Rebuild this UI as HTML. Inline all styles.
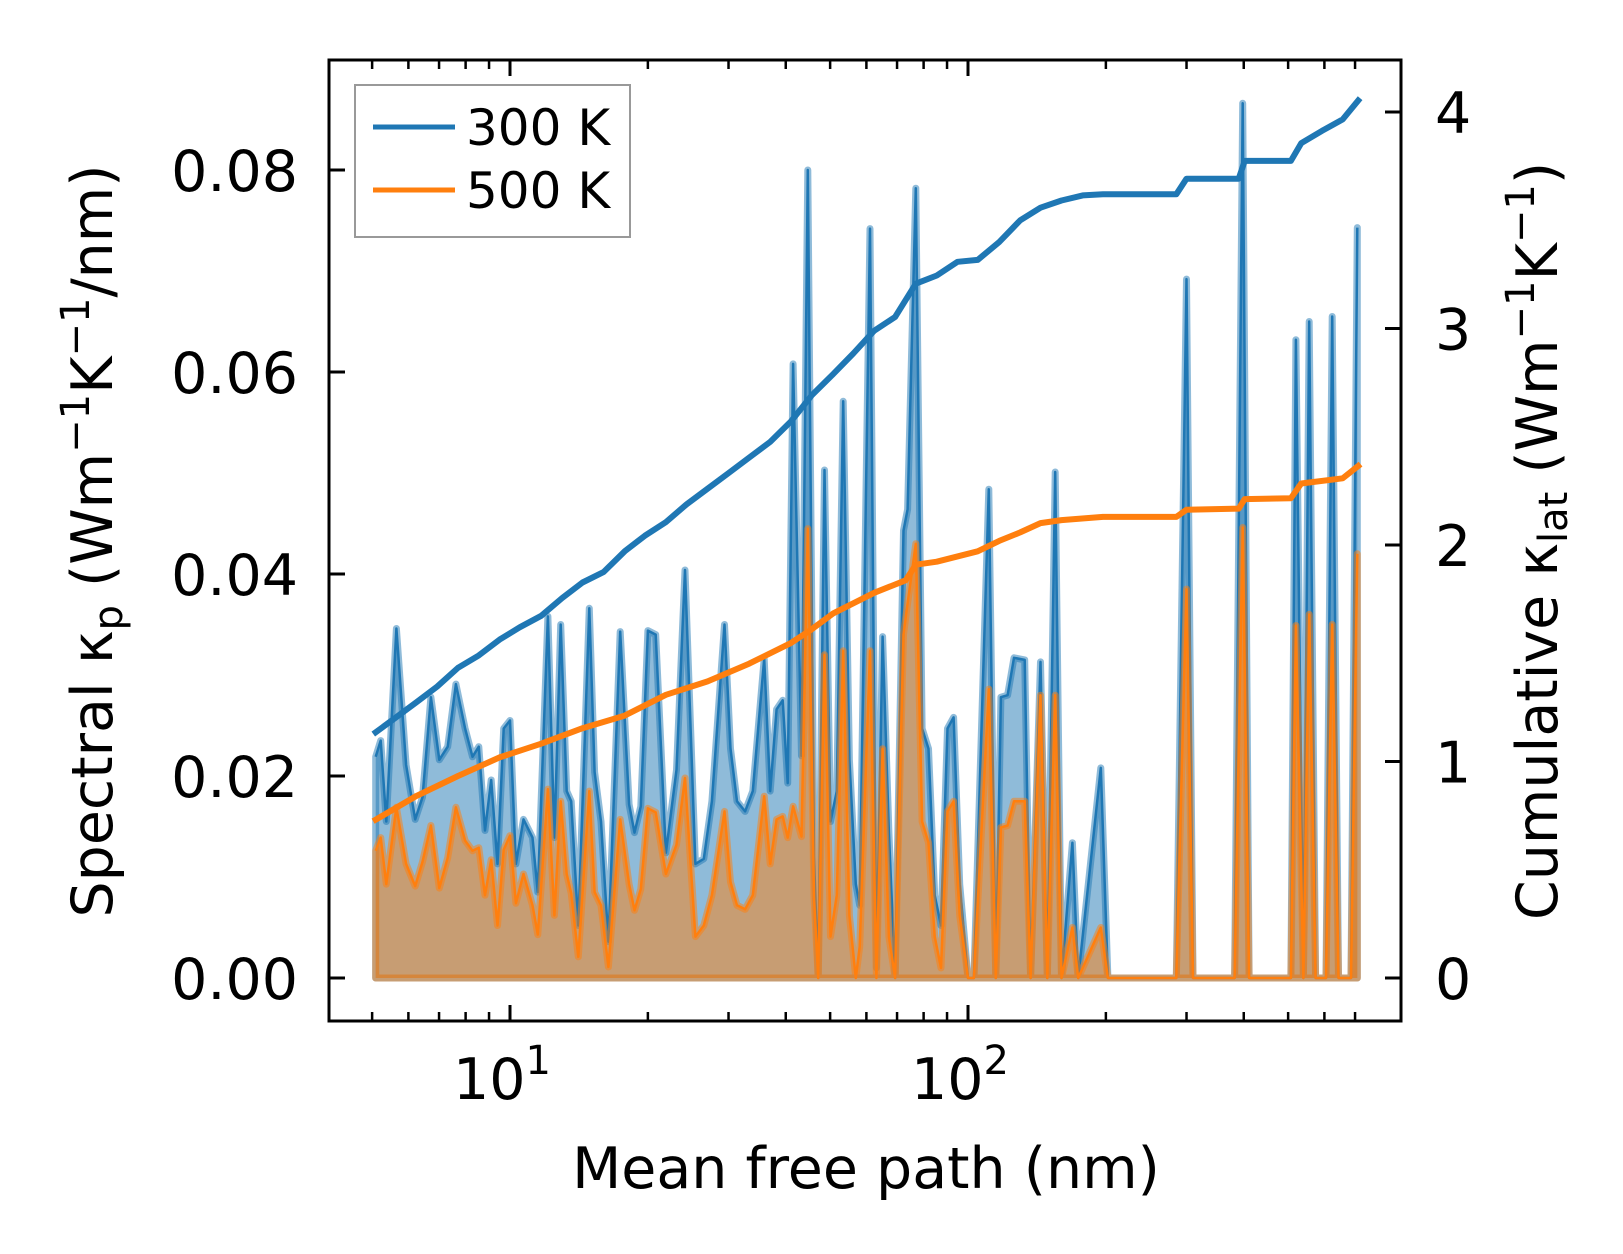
<!DOCTYPE html>
<html><head><meta charset="utf-8"><style>
html,body{margin:0;padding:0;background:#fff;}
svg{display:block;font-family:"DejaVu Sans","Liberation Sans",sans-serif;}
</style></head><body>
<svg id="chart" width="1623" height="1254" viewBox="0 0 1623 1254" xmlns="http://www.w3.org/2000/svg">
<rect x="0" y="0" width="1623" height="1254" fill="#fff"/>
<g id="plot"></g>
<g id="axes"></g>
</svg>
<script>
// spectral data
const mfp = [5.09,5.22,5.37,5.65,5.93,6.21,6.44,6.72,7.01,7.31,7.62,7.98,8.28,8.55,8.82,9.10,9.39,9.69,10,10.3,10.7,11.2,11.5,12.1,12.5,12.9,13.3,13.6,14.1,14.9,15.3,15.8,16.4,17.4,18.2,18.7,19.3,20.0,20.8,21.9,23.1,24.1,25.4,26.5,27.6,29.4,30.3,31.3,32.6,33.9,35.9,37.0,38.2,39.4,40.4,41.5,43.3,44.7,46.1,47.1,48.6,50.1,51.7,53.4,55.1,56.9,58.0,61.1,63.1,65.1,67.2,69.3,72.3,73.8,76.9,79.4,82.0,84.6,87.3,90.2,93.0,95.9,100,103,111,115,118,122,126,133,137,144,149,155,160,169,174,195,202,285,300,310,382,398,411,507,520,540,556,574,605,624,644,686,708];
const k300 = [21.9,23.5,15.5,34.6,21.1,15.7,17.9,27.8,21.6,22.9,29.1,24.7,21.9,22.9,14.6,19.6,11.3,24.7,25.5,11.3,15.7,13.9,8.5,35.8,13.9,35.0,18.5,17.5,5.2,36.6,20.4,15.5,3.6,34.3,17.2,14.4,17.0,34.4,34.0,12.4,20.6,40.4,11.3,11.8,17.5,35.0,22.7,17.5,16.5,18.5,31.6,18.5,26.6,27.5,19.3,60.8,22.0,80.0,12.0,0,50.3,15.5,18.5,57.1,21.6,9.3,7.2,74.2,1.0,33.8,14.4,0,44.3,46.4,78.2,24.7,22.7,8.2,5.2,24.7,25.8,9.3,0,0,48.4,0,27.8,28.0,31.7,31.5,0,31.3,0,50.1,0,13.4,0,20.8,0,0,69.2,0,0,86.6,0,0,63.2,0,65.0,0,0,65.5,0,0,74.3];
const k500 = [12.6,13.9,9.3,16.9,11.3,9.1,11.5,15.1,8.9,11.9,16.9,13.6,12.6,12.9,8.2,11.7,5.2,12.7,14.1,7.4,10.3,7.2,4.3,18.7,6.2,17.5,10.3,8.4,2.1,18.5,8.5,7.2,1.1,15.7,9.3,6.7,8.8,16.8,16.4,10.3,13.2,19.8,4.1,5.2,8.2,16.5,9.5,7.2,6.8,8.2,18.0,11.3,15.7,16.0,13.9,17.0,14.0,44.5,8.0,0,32.0,4.1,8.2,32.4,6.2,0,3.1,32.4,0,22.7,4.1,0,34.0,37.1,43.0,15.5,13.4,4.1,1.0,16.5,17.5,6.2,0,0,28.6,0,14.9,15.1,17.5,17.5,0,28.0,0,28.0,0,5.0,0,5.0,0,0,38.5,0,0,44.6,0,0,34.9,0,36.0,0,0,35.0,0,0,42.0];
// cumulative data
const cumMfp300 = [5.09,5.62,6.25,6.93,7.70,8.55,9.49,10.5,11.7,13.0,14.4,16.0,17.8,19.7,21.9,24.3,27.0,30.0,33.3,37.0,41.1,45.6,50.7,56.2,62.4,69.3,76.9,85.5,94.9,105,117,130,144,160,178,197,285,300,390,402,507,534,593,658,711];
const cum300 = [1.135,1.202,1.274,1.346,1.433,1.490,1.563,1.620,1.673,1.755,1.827,1.875,1.971,2.043,2.106,2.188,2.260,2.332,2.404,2.476,2.572,2.692,2.788,2.885,2.990,3.053,3.207,3.245,3.308,3.317,3.399,3.500,3.558,3.591,3.615,3.620,3.620,3.692,3.692,3.774,3.774,3.856,3.913,3.966,4.053];
const cumMfp500 = [5.09,6.25,7.70,9.49,11.7,14.4,17.8,21.9,27.0,33.3,41.1,45.6,50.7,62.4,73.1,76.9,85.5,105,117,130,144,160,197,285,300,390,402,507,534,658,711];
const cum500 = [0.731,0.841,0.933,1.019,1.082,1.154,1.212,1.308,1.370,1.452,1.548,1.611,1.683,1.779,1.837,1.909,1.923,1.971,2.019,2.058,2.101,2.115,2.130,2.130,2.163,2.168,2.212,2.216,2.284,2.308,2.365];
const leftTicks = [0,0.02,0.04,0.06,0.08];
const leftTickLabels = ["0.00","0.02","0.04","0.06","0.08"];
const rightTicks = [0,1,2,3,4];
const rightTickLabels = ["0","1","2","3","4"];

const L=329,R=1401,T=60,B=1021;
const X = m => 510 + (Math.log10(m)-1)*458;
const Y = v => 978 - v/1000/0.08*808;
const YR = c => 978 - c*216.5;
const NS="http://www.w3.org/2000/svg";
const plot=document.getElementById('plot'), axes=document.getElementById('axes');
function mk(tag,attrs,parent){const e=document.createElementNS(NS,tag);for(const k in attrs)e.setAttribute(k,attrs[k]);parent.appendChild(e);return e;}

function area(vals,color,name){
  let d=`M${X(mfp[0])},${Y(0)}`;
  vals.forEach((v,i)=>{d+=` L${X(mfp[i]).toFixed(1)},${Y(v).toFixed(1)}`;});
  d+=` L${X(mfp[mfp.length-1])},${Y(0)} Z`;
  const a=mk('path',{d:d,fill:color,'fill-opacity':0.5,stroke:color,'stroke-opacity':0.5,'stroke-width':7,'stroke-linejoin':'round'},plot);
  
  
  const pts=vals.map((v,i)=>X(mfp[i]).toFixed(1)+','+Y(v).toFixed(1)).join(' ');
  const l=mk('polyline',{points:pts,fill:'none',stroke:color,'stroke-width':2.5,'stroke-linejoin':'round'},plot);
  
  
}
area(k300,'#1f77b4','spectral-300k');
area(k500,'#ff7f0e','spectral-500k');

function cum(xs,vals,color,name){
  const pts=vals.map((v,i)=>X(xs[i]).toFixed(1)+','+YR(v).toFixed(1)).join(' ');
  const l=mk('polyline',{points:pts,fill:'none',stroke:color,'stroke-width':6,'stroke-linejoin':'round','stroke-linecap':'square'},plot);
  
  
}
cum(cumMfp300,cum300,'#1f77b4','cumulative-300k');
cum(cumMfp500,cum500,'#ff7f0e','cumulative-500k');

const fr=mk('rect',{x:L,y:T,width:R-L,height:B-T,fill:'none',stroke:'#000','stroke-width':3},axes);



const minor=[5,6,7,8,9,20,30,40,50,60,70,80,90,200,300,400,500,600,700];
minor.forEach(m=>{
  const x=X(m);
  const t=mk('line',{x1:x,x2:x,y1:B,y2:B-9,stroke:'#000','stroke-width':2.5},axes);
  
  
  const t2=mk('line',{x1:x,x2:x,y1:T,y2:T+9,stroke:'#000','stroke-width':2.5},axes);
  
  
});
[[10,'1'],[100,'2']].forEach(([m,e])=>{
  const x=X(m);
  const t=mk('line',{x1:x,x2:x,y1:B,y2:B-16,stroke:'#000','stroke-width':3},axes);
  
  
  const t2=mk('line',{x1:x,x2:x,y1:T,y2:T+16,stroke:'#000','stroke-width':3},axes);
  
  
  const tx=mk('text',{x:x-8,y:1099,'font-size':57,'text-anchor':'middle'},axes);
  
  
  tx.textContent='10';
  const sp=mk('tspan',{dy:-25,'font-size':40},tx); sp.textContent=e;
});
leftTicks.forEach((v,i)=>{
  const y=Y(v*1000);
  const t=mk('line',{x1:L,x2:L+16,y1:y,y2:y,stroke:'#000','stroke-width':3},axes);
  
  
  const tx=mk('text',{x:298,y:y+21,'font-size':57,'text-anchor':'end'},axes);
  
  
  tx.textContent=leftTickLabels[i];
});
rightTicks.forEach((v,i)=>{
  const y=YR(v);
  const t=mk('line',{x1:R,x2:R-16,y1:y,y2:y,stroke:'#000','stroke-width':3},axes);
  
  
  const tx=mk('text',{x:1435,y:y+21,'font-size':57},axes);
  
  
  tx.textContent=rightTickLabels[i];
});
</script>
<svg style="position:absolute;left:0;top:0" width="1623" height="1254" viewBox="0 0 1623 1254" xmlns="http://www.w3.org/2000/svg" font-family="DejaVu Sans, Liberation Sans, sans-serif">
<text x="866" y="1188" font-size="57" text-anchor="middle">Mean free path (nm)</text>
<text transform="translate(112,541) rotate(-90)" font-size="57" text-anchor="middle">Spectral κ<tspan font-size="40" dy="10">p</tspan><tspan dy="-10"> (Wm</tspan><tspan font-size="40" dy="-23">−1</tspan><tspan dy="23">K</tspan><tspan font-size="40" dy="-23">−1</tspan><tspan dy="23">/nm)</tspan></text>
<text transform="translate(1557,541) rotate(-90)" font-size="57" text-anchor="middle">Cumulative κ<tspan font-size="40" dy="10">lat</tspan><tspan dy="-10"> (Wm</tspan><tspan font-size="40" dy="-23">−1</tspan><tspan dy="23">K</tspan><tspan font-size="40" dy="-23">−1</tspan><tspan dy="23">)</tspan></text>
<g>
<rect x="355" y="85" width="275" height="152" fill="#fff" fill-opacity="0.8" stroke="#999" stroke-width="2"/>
<line x1="373" y1="127" x2="455" y2="127" stroke="#1f77b4" stroke-width="5"/>
<text x="466" y="145" font-size="50">300 K</text>
<line x1="373" y1="190" x2="455" y2="190" stroke="#ff7f0e" stroke-width="5"/>
<text x="466" y="208" font-size="50">500 K</text>
</g>
</svg>
</body></html>
